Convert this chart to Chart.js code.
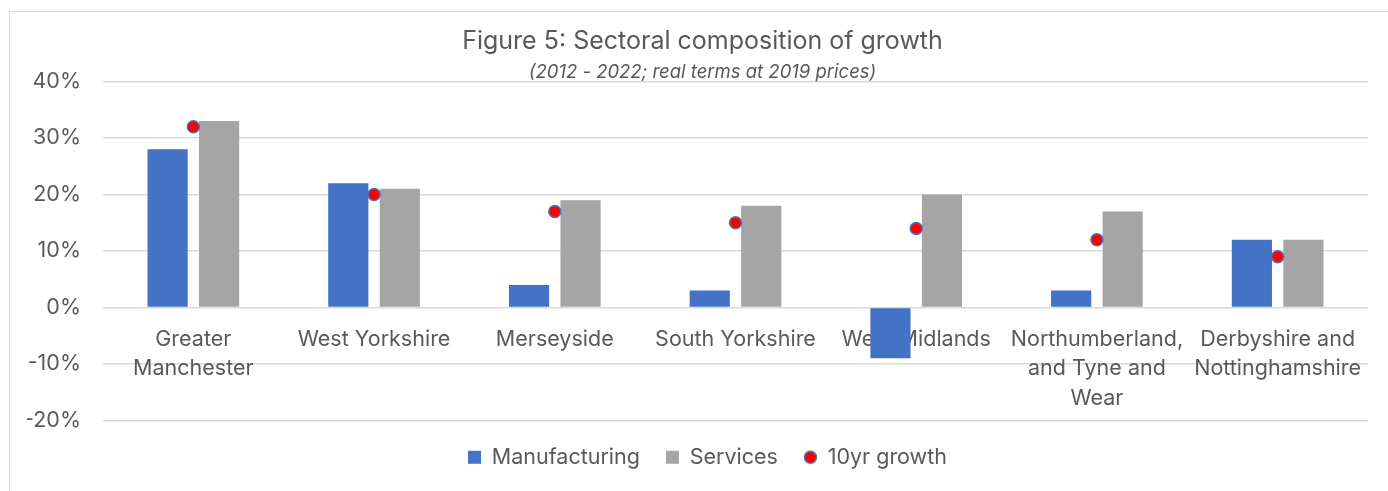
<!DOCTYPE html>
<html>
<head>
<meta charset="utf-8">
<script src="https://cdn.jsdelivr.net/npm/chart.js@4"></script>
<style>
  body { margin: 0; background: #fff; overflow: hidden; }
  #frame { position: absolute; left: 9px; top: 11px; width: 1400px; height: 500px; border: 1px solid #d9d9d9; }
  #box { position: absolute; left: 10px; top: 12px; width: 1378px; height: 479px; }
</style>
</head>
<body>
<div id="frame"></div>
<div id="box"><canvas id="chart"></canvas></div>
<script>
const regions = [
    ['Greater', 'Manchester'],
    'West Yorkshire',
    'Merseyside',
    'South Yorkshire',
    'West Midlands',
    ['Northumberland,', 'and Tyne and', 'Wear'],
    ['Derbyshire and', 'Nottinghamshire']
];
const manufacturing = [28, 22, 4, 3, -9, 3, 12];
const services = [33, 21, 19, 18, 20, 17, 12];
const growth10yr = [32, 20, 17, 15, 14, 12, 9];

const textColor = '#595959';
const fontFamily = 'Inter, "Noto Sans", sans-serif';

// small marker for the legend entry of the dots
const dotIcon = document.createElement('canvas');
dotIcon.width = 15;
dotIcon.height = 15;
const dctx = dotIcon.getContext('2d');
dctx.beginPath();
dctx.arc(7.5, 7.5, 6, 0, Math.PI * 2);
dctx.fillStyle = '#ff0000';
dctx.fill();
dctx.lineWidth = 1.5;
dctx.strokeStyle = '#4472c4';
dctx.stroke();

// nudge title and legend so they are centred like the original
const nudgeBoxes = {
    id: 'nudgeBoxes',
    afterLayout(chart) {
        chart.boxes.forEach((b) => {
            if (b === chart.legend) { b.left += 10; b.right += 10; }
            else if (b.position === 'top') { b.left += 5; b.right += 5; }
        });
    }
};

const ctx = document.getElementById('chart').getContext('2d');
const myChart = new Chart(ctx, {
    type: 'bar',
    data: {
        labels: regions,
        datasets: [
            {
                type: 'line',
                label: '10yr growth',
                data: growth10yr,
                showLine: false,
                pointStyle: 'circle',
                pointRadius: 6,
                pointHoverRadius: 6,
                backgroundColor: '#ff0000',
                borderColor: '#4472c4',
                borderWidth: 1.5,
                order: 0,
            },
            {
                label: 'Manufacturing',
                data: manufacturing,
                backgroundColor: '#4472c4',
                pointStyle: 'rect',
                categoryPercentage: 0.57,
                barPercentage: 0.78,
                order: 1,
            },
            {
                label: 'Services',
                data: services,
                backgroundColor: '#a5a5a5',
                pointStyle: 'rect',
                categoryPercentage: 0.57,
                barPercentage: 0.78,
                order: 2,
            },
        ]
    },
    plugins: [nudgeBoxes],
    options: {
        responsive: true,
        maintainAspectRatio: false,
        animation: false,
        layout: { padding: { left: 17, right: 20, bottom: 13 } },
        plugins: {
            title: {
                display: true,
                text: 'Figure 5: Sectoral composition of growth',
                color: textColor,
                font: { family: fontFamily, size: 25, weight: 'normal', lineHeight: 1 },
                padding: { top: 17, bottom: 3 },
            },
            subtitle: {
                display: true,
                text: '(2012 - 2022; real terms at 2019 prices)',
                color: textColor,
                font: { family: fontFamily, size: 18.5, style: 'italic', lineHeight: 1 },
                padding: { top: 6, bottom: 0 },
            },
            legend: {
                position: 'bottom',
                labels: {
                    usePointStyle: true,
                    boxWidth: 13,
                    boxHeight: 13,
                    padding: 26,
                    color: textColor,
                    font: { family: fontFamily, size: 21.5 },
                    sort: (a, b) => [1, 2, 0].indexOf(a.datasetIndex) - [1, 2, 0].indexOf(b.datasetIndex),
                    generateLabels: (chart) => {
                        const items = Chart.defaults.plugins.legend.labels.generateLabels(chart);
                        items.forEach((it) => {
                            if (it.datasetIndex === 0) it.pointStyle = dotIcon;
                        });
                        return items;
                    },
                }
            },
            tooltip: { enabled: false }
        },
        scales: {
            x: {
                position: { y: 0 },
                z: 1,
                grid: { display: false },
                border: { display: false },
                ticks: {
                    color: textColor,
                    font: { family: fontFamily, size: 21.5, lineHeight: 1.37 },
                    maxRotation: 0,
                    autoSkip: false,
                    padding: 9,
                }
            },
            y: {
                min: -20,
                max: 40,
                afterFit: (scale) => { scale.width = 76; },
                grid: { color: '#d9d9d9', lineWidth: 1.5, drawTicks: false },
                border: { display: false },
                ticks: {
                    stepSize: 10,
                    color: textColor,
                    font: { family: fontFamily, size: 21.5 },
                    padding: 22,
                    callback: (v) => v + '%',
                }
            }
        }
    }
});
</script>
</body>
</html>
